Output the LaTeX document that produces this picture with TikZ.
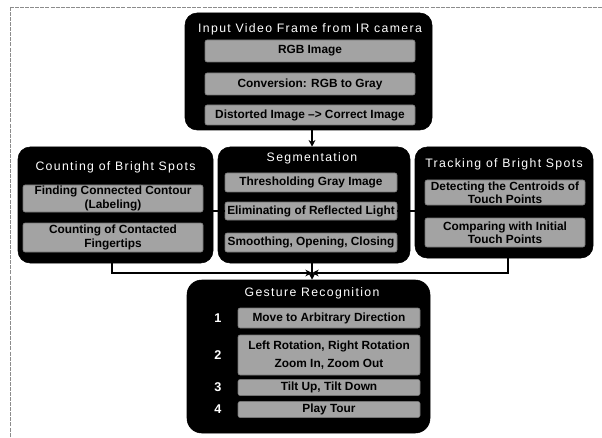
\documentclass[tikz,border=0pt]{standalone}
\usepackage{fontspec}
\setmainfont{Liberation Sans}
\newfontfamily\titlefont[LetterSpace=11]{Liberation Sans}
\usetikzlibrary{arrows.meta}
\begin{document}
\begin{tikzpicture}[x=0.75pt,y=-0.75pt,
  outerbox/.style={fill=black,draw=black,rounded corners=9pt,inner sep=0pt},
  innerbox/.style={fill=black!36,draw=black!55,line width=0.4pt,rounded corners=1.5pt,inner sep=0pt,
    font=\bfseries\fontsize{8.9}{10}\selectfont,align=center,text=black},
  boxtitle/.style={text=white,font=\titlefont\fontsize{9.2}{10}\selectfont,inner sep=0pt},
  numlabel/.style={text=white,font=\bfseries\fontsize{9.5}{10}\selectfont,inner sep=0pt},
  conn/.style={line width=1.1pt,draw=black},
  arr/.style={conn,-{Stealth[length=5pt,width=5pt]}},
  frameline/.style={draw=black!45,line width=0.6pt,dash pattern=on 3pt off 0.8pt}
]
\useasboundingbox (0,0) rectangle (602,438);
% frame lines (top and left only)
\draw[frameline] (10,7) -- (602,7);
\draw[frameline] (10,7) -- (10,438);

% top box
\node[outerbox,minimum width=247*0.75pt,minimum height=117*0.75pt] (top) at (308.5,71.5) {};
\node[boxtitle] (toptitle) at (310,29) {Input Video Frame from IR camera};
\node[innerbox,minimum width=210*0.75pt,minimum height=22*0.75pt] (rgb) at (310,51) {RGB Image};
\node[innerbox,minimum width=210*0.75pt,minimum height=22*0.75pt] (conv) at (310,84) {Conversion: RGB to Gray};
\node[innerbox,minimum width=210*0.75pt,minimum height=20*0.75pt] (dist) at (310,115) {Distorted Image –> Correct Image};

% left box
\node[outerbox,minimum width=195*0.75pt,minimum height=116*0.75pt] (left) at (115.5,205) {};
\node[boxtitle] (lefttitle) at (115.5,167) {Counting of Bright Spots};
\node[innerbox,minimum width=180*0.75pt,minimum height=27*0.75pt] (find) at (113,198.5) {Finding Connected Contour\\(Labeling)};
\node[innerbox,minimum width=180*0.75pt,minimum height=29*0.75pt] (count) at (113,237.5) {Counting of Contacted\\Fingertips};

% middle box
\node[outerbox,minimum width=192*0.75pt,minimum height=116*0.75pt] (mid) at (314,205) {};
\node[boxtitle] (midtitle) at (312,158) {Segmentation};
\node[innerbox,minimum width=172*0.75pt,minimum height=19*0.75pt] (thresh) at (311,182.5) {Thresholding Gray Image};
\node[innerbox,minimum width=172*0.75pt,minimum height=18*0.75pt] (elim) at (311,211) {Eliminating of Reflected Light};
\node[innerbox,minimum width=172*0.75pt,minimum height=19*0.75pt] (smooth) at (311,242.5) {Smoothing, Opening, Closing};

% right box
\node[outerbox,minimum width=178*0.75pt,minimum height=111*0.75pt] (right) at (504,202.5) {};
\node[boxtitle] (righttitle) at (504,164) {Tracking of Bright Spots};
\node[innerbox,minimum width=160*0.75pt,minimum height=25*0.75pt] (detect) at (505,192.5) {Detecting the Centroids of\\Touch Points};
\node[innerbox,minimum width=160*0.75pt,minimum height=29*0.75pt] (compare) at (505,232.5) {Comparing with Initial\\Touch Points};

% gesture box
\node[outerbox,rounded corners=11pt,minimum width=243*0.75pt,minimum height=153*0.75pt] (ges) at (308.5,356.5) {};
\node[boxtitle] (gestitle) at (312,293) {Gesture Recognition};
\node[innerbox,minimum width=182*0.75pt,minimum height=20*0.75pt] (g1) at (329,318) {Move to Arbitrary Direction};
\node[innerbox,minimum width=182*0.75pt,minimum height=40*0.75pt,font=\bfseries\fontsize{8.9}{13.5}\selectfont] (g2) at (329,355) {Left Rotation, Right Rotation\\Zoom In, Zoom Out};
\node[innerbox,minimum width=182*0.75pt,minimum height=16*0.75pt] (g3) at (329,387.5) {Tilt Up, Tilt Down};
\node[innerbox,minimum width=182*0.75pt,minimum height=16*0.75pt] (g4) at (329,409.5) {Play Tour};
\node[numlabel] (n1) at (218,318) {1};
\node[numlabel] (n2) at (218,355) {2};
\node[numlabel] (n3) at (218,387.5) {3};
\node[numlabel] (n4) at (218,409.5) {4};

% connectors
\draw[arr] (top.south -| 312,0) -- (mid.north -| 312,0);
\draw[conn] (left.east |- elim.west) -- (elim.west);
\draw[conn] (elim.east) -- (right.west |- elim.east);
\coordinate (merge) at (312,273);
\draw[arr] (left.south -| 112,0) |- (merge);
\draw[arr] (right.south -| 508,0) |- (merge);
\draw[arr] (mid.south -| 312,0) -- (ges.north -| 312,0);
\end{tikzpicture}
\end{document}
